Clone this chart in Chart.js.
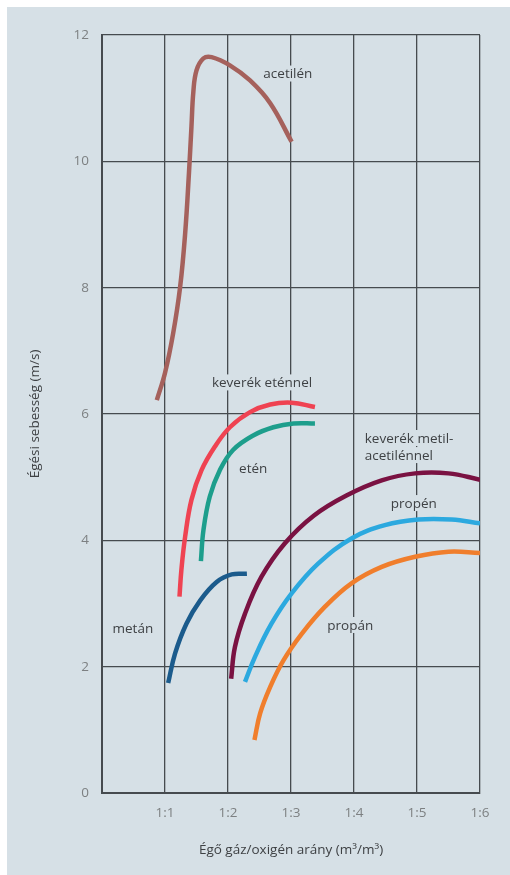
<!DOCTYPE html>
<html>
<head>
<meta charset="utf-8">
<script src="https://cdn.jsdelivr.net/npm/chart.js@4/dist/chart.umd.min.js"></script>
<style>
html,body{margin:0;padding:0;background:#fff;}
#wrap{width:510px;height:875px;position:relative;}
</style>
</head>
<body>
<div id="wrap"><canvas id="c" width="510" height="875"></canvas></div>
<script>
// ---- data (x: 0..6 position on ratio axis, y: m/s) ----
const xTickLabels = ['', '1:1', '1:2', '1:3', '1:4', '1:5', '1:6'];
const yTicks = [0, 2, 4, 6, 8, 10, 12];

const acetilenX = [0.87, 1.00, 1.13, 1.24, 1.32, 1.38, 1.42, 1.45, 1.50, 1.61, 1.74, 2.03, 2.35, 2.67, 3.01];
const acetilenY = [6.22, 6.65, 7.28, 8.01, 8.86, 9.81, 10.55, 11.10, 11.44, 11.63, 11.65, 11.52, 11.28, 10.92, 10.31];

const etennelX = [1.23, 1.26, 1.32, 1.42, 1.58, 1.79, 2.03, 2.35, 2.67, 3.01, 3.38];
const etennelY = [3.11, 3.53, 4.06, 4.64, 5.11, 5.48, 5.79, 6.03, 6.15, 6.18, 6.11];

const etenX = [1.57, 1.61, 1.71, 1.87, 2.08, 2.40, 2.72, 3.04, 3.38];
const etenY = [3.67, 4.16, 4.69, 5.11, 5.43, 5.66, 5.79, 5.85, 5.85];

const metanX = [1.05, 1.16, 1.34, 1.56, 1.82, 2.06, 2.30];
const metanY = [1.74, 2.21, 2.68, 3.05, 3.34, 3.46, 3.47];

const metilX = [2.05, 2.11, 2.27, 2.53, 2.90, 3.36, 3.88, 4.44, 4.97, 5.50, 6.00];
const metilY = [1.81, 2.31, 2.84, 3.42, 3.95, 4.39, 4.71, 4.95, 5.06, 5.06, 4.96];

const propenX = [2.27, 2.43, 2.69, 3.01, 3.43, 3.96, 4.49, 5.02, 5.55, 6.00];
const propenY = [1.76, 2.16, 2.68, 3.16, 3.63, 4.03, 4.24, 4.33, 4.33, 4.27];

const propanX = [2.42, 2.51, 2.67, 2.88, 3.17, 3.54, 3.96, 4.44, 4.97, 5.50, 6.00];
const propanY = [0.84, 1.26, 1.68, 2.10, 2.52, 2.95, 3.32, 3.58, 3.74, 3.82, 3.80];

const seriesNames = ['acetilén', 'keverék eténnel', 'etén', 'metán', 'keverék metil-acetilénnel', 'propén', 'propán'];
const labelTexts = ['acetilén', 'keverék eténnel', 'etén', 'keverék metil-', 'acetilénnel', 'propén', 'metán', 'propán'];
const labelX = [2.95, 2.54, 2.40, 4.17, 4.17, 4.95, 0.49, 3.94];
const labelY = [11.39, 6.50, 5.14, 5.62, 5.35, 4.59, 2.61, 2.66];
const labelAlign = ['center', 'center', 'center', 'left', 'left', 'center', 'center', 'center'];

const xTitle = 'Égő gáz/oxigén arány (m³/m³)';
const yTitle = 'Égési sebesség (m/s)';

// ---- styling ----
const PANEL = '#d6e0e6';
const GRID = '#464b4f';
const colors = ['#a5615c', '#ef4352', '#1d9e8c', '#1b5b8c', '#7a1242', '#2ca9df', '#f07e2c'];
const FONT = '"Open Sans", "Noto Sans", sans-serif';

function pts(xs, ys) { return xs.map((x, i) => ({x: x, y: ys[i]})); }
const allX = [acetilenX, etennelX, etenX, metanX, metilX, propenX, propanX];
const allY = [acetilenY, etennelY, etenY, metanY, metilY, propenY, propanY];

const datasets = seriesNames.map((n, i) => ({
  label: n,
  data: pts(allX[i], allY[i]),
  borderColor: colors[i],
  backgroundColor: colors[i],
  borderWidth: 4.5,
  borderCapStyle: 'butt',
  borderJoinStyle: 'round',
  pointRadius: 0,
  tension: 0.4,
  fill: false
}));

const panelPlugin = {
  id: 'panel',
  beforeDraw(chart) {
    const ctx = chart.ctx;
    ctx.save();
    ctx.fillStyle = '#ffffff';
    ctx.fillRect(0, 0, chart.width, chart.height);
    ctx.fillStyle = PANEL;
    ctx.fillRect(7, 7, chart.width - 7, chart.height - 7);
    ctx.restore();
  }
};

const labelPlugin = {
  id: 'curveLabels',
  afterDatasetsDraw(chart) {
    const ctx = chart.ctx;
    const xs = chart.scales.x, ys = chart.scales.y;
    ctx.save();
    ctx.font = '13.5px ' + FONT;
    ctx.textBaseline = 'middle';
    labelTexts.forEach((t, i) => {
      const px = xs.getPixelForValue(labelX[i]);
      const py = ys.getPixelForValue(labelY[i]);
      const w = ctx.measureText(t).width;
      const left = labelAlign[i] === 'left' ? px : px - w / 2;
      ctx.fillStyle = PANEL;
      ctx.fillRect(left - 3, py - 8, w + 6, 16);
      ctx.fillStyle = '#3e4144';
      ctx.textAlign = 'left';
      ctx.fillText(t, left, py + 1);
    });
    ctx.restore();
  }
};

new Chart(document.getElementById('c'), {
  type: 'line',
  data: { datasets: datasets },
  plugins: [panelPlugin, labelPlugin],
  options: {
    responsive: false,
    animation: false,
    devicePixelRatio: 1,
    layout: { padding: { top: 35, right: 30, bottom: 0, left: 0 } },
    plugins: { legend: { display: false }, tooltip: { enabled: false } },
    scales: {
      x: {
        type: 'linear',
        min: 0, max: 6,
        afterFit(s) { s.height = 82; },
        afterBuildTicks(s) { s.ticks = xTickLabels.map((_, i) => ({ value: i })); },
        ticks: {
          stepSize: 1,
          padding: 12,
          color: '#7d8082',
          font: { family: FONT, size: 13.5 },
          maxRotation: 0,
          callback: (v) => xTickLabels[v]
        },
        grid: { color: GRID, lineWidth: 1.3, drawTicks: false },
        border: { color: GRID, width: 2 },
        title: {
          display: true, text: xTitle, color: '#3e4144',
          font: { family: FONT, size: 13.5 },
          padding: { top: 0, bottom: 17 }
        }
      },
      y: {
        type: 'linear',
        min: 0, max: 12,
        afterFit(s) { s.width = 102; },
        afterBuildTicks(s) { s.ticks = yTicks.map(v => ({ value: v })); },
        ticks: {
          stepSize: 2,
          padding: 13,
          color: '#7d8082',
          font: { family: FONT, size: 13.5 }
        },
        grid: { color: GRID, lineWidth: 1.3, drawTicks: false },
        border: { color: GRID, width: 2 },
        title: {
          display: true, text: yTitle, color: '#3e4144',
          font: { family: FONT, size: 13.5 },
          padding: { top: 27, bottom: 0 }
        }
      }
    }
  }
});
</script>
</body>
</html>
